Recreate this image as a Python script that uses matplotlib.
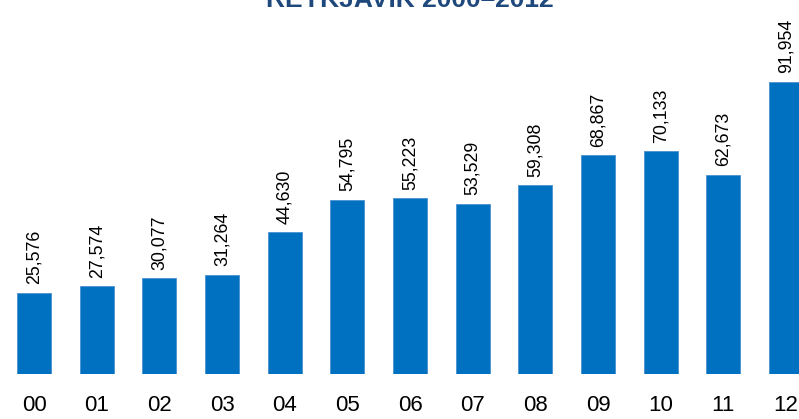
import matplotlib.pyplot as plt
import numpy as np

# visitors per year, Reykjavik 2000-2012
years = ['00', '01', '02', '03', '04', '05', '06', '07', '08', '09', '10', '11', '12']
values = [25576, 27574, 30077, 31264, 44630, 54795, 55223, 53529, 59308, 68867, 70133, 62673, 91954]
title = 'REYKJAVIK 2000\u20132012'

bar_color = '#0070C0'

fig = plt.figure(figsize=(7.99, 4.19), dpi=100)
ax = fig.add_axes([0, 45 / 419, 1, 374 / 419])

x = np.arange(len(years))
ax.bar(x, values, width=0.5426, color=bar_color, edgecolor='#4A90D0', linewidth=0.6)

for xi, v in zip(x, values):
    ax.annotate('{:,}'.format(v), (xi, v), xytext=(0, 6), textcoords='offset points',
                rotation=90, ha='center', va='bottom', fontsize=12.8,
                family=['Liberation Sans', 'DejaVu Sans'])

ax.set_xlim(-0.5426, 12.2074)
ax.set_ylim(0, 117610)
ax.set_xticks(x)
ax.set_xticklabels(years, fontsize=16, family=['Liberation Sans Narrow', 'Liberation Sans', 'DejaVu Sans'])
ax.tick_params(axis='x', length=0, pad=15)
ax.set_yticks([])
for s in ax.spines.values():
    s.set_visible(False)

fig.text(410 / 799, 1 - 7 / 419, title, ha='center', va='baseline', fontsize=19,
         fontweight='bold', color='#1F497D', family=['Liberation Sans', 'DejaVu Sans'])

fig.savefig('out.png', dpi=100)
